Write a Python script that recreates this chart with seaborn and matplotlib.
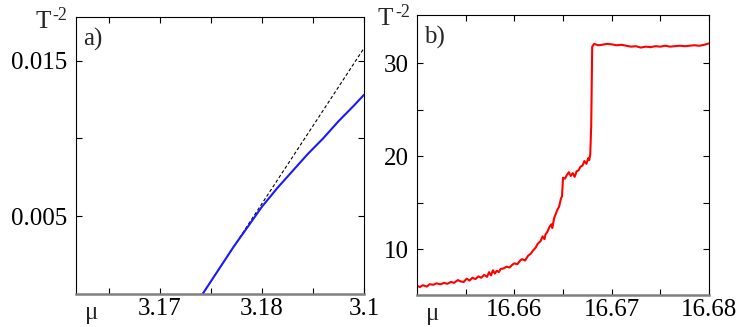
import pandas as pd
import seaborn as sns
import matplotlib.pyplot as plt
from matplotlib.ticker import FixedLocator

# ---- data ----
mu_a = [3.1742, 3.1750, 3.1760, 3.1772, 3.1786, 3.1800, 3.1815, 3.1830,
        3.1845, 3.1860, 3.1875, 3.1890, 3.1900]
t_a = [0.0000, 0.0008, 0.0018, 0.0030, 0.0043, 0.0056, 0.0068, 0.0079,
       0.0090, 0.0100, 0.0111, 0.0121, 0.0128]
mu_a_lin = [3.1742, 3.1900]
t_a_lin = [0.0000, 0.0158]

mu_b = [16.6500, 16.6503, 16.6506, 16.6510, 16.6513, 16.6517, 16.6520, 16.6524,
        16.6528, 16.6531, 16.6535, 16.6538, 16.6542, 16.6545, 16.6548, 16.6551,
        16.6554, 16.6557, 16.6560, 16.6563, 16.6566, 16.6569, 16.6572, 16.6574,
        16.6576, 16.6578, 16.6580, 16.6582, 16.6584, 16.6586, 16.6589, 16.6592,
        16.6595, 16.6598, 16.6600, 16.6603, 16.6606, 16.6608, 16.6611, 16.6614,
        16.6617, 16.6619, 16.6622, 16.6624, 16.6627, 16.6629, 16.6631, 16.6632,
        16.6634, 16.6636, 16.6638, 16.6639, 16.6641, 16.6644, 16.6646, 16.6648,
        16.6649, 16.6650, 16.6652, 16.6654, 16.6656, 16.6658, 16.6660, 16.6662,
        16.6664, 16.6666, 16.6668, 16.6670, 16.6672, 16.6674, 16.6676, 16.6677,
        16.6678, 16.6679, 16.6680, 16.6682, 16.6686, 16.6690, 16.6695, 16.6700,
        16.6705, 16.6710, 16.6715, 16.6720, 16.6725, 16.6730, 16.6735, 16.6740,
        16.6745, 16.6750, 16.6755, 16.6760, 16.6765, 16.6770, 16.6775, 16.6780,
        16.6785, 16.6790, 16.6795, 16.6800]
t_b = [6.10, 5.95, 6.15, 6.00, 6.25, 6.20, 6.35, 6.25,
       6.40, 6.30, 6.50, 6.40, 6.70, 6.55, 6.50, 6.85,
       6.65, 6.95, 6.80, 7.10, 6.95, 7.25, 7.05, 7.55,
       7.20, 7.75, 7.40, 7.70, 7.55, 7.90, 7.95, 8.15,
       8.05, 8.35, 8.50, 8.40, 8.80, 8.95, 8.80, 9.30,
       9.55, 9.85, 10.20, 10.60, 10.90, 11.40, 11.10, 11.60,
       11.90, 12.40, 12.70, 12.30, 13.40, 14.20, 14.60, 15.50,
       15.70, 17.70, 17.60, 18.00, 18.30, 17.90, 18.20, 17.80,
       18.40, 18.50, 18.90, 19.00, 19.50, 19.20, 19.80, 19.60,
       20.20, 23.30, 31.80, 32.10, 31.95, 32.00, 32.10, 32.05,
       31.95, 32.00, 31.90, 31.80, 31.85, 31.70, 31.80, 31.75,
       31.85, 31.80, 31.90, 31.80, 31.85, 31.90, 31.85, 31.90,
       31.95, 31.90, 32.00, 32.15]

df_a = pd.DataFrame({"mu": mu_a, "t": t_a})
df_a_lin = pd.DataFrame({"mu": mu_a_lin, "t": t_a_lin})
df_b = pd.DataFrame({"mu": mu_b, "t": t_b})

sns.set_theme(style="ticks")
plt.rcParams['font.family'] = ['Liberation Serif', 'DejaVu Serif']

fs = 18
fig = plt.figure(figsize=(7.56, 3.27), dpi=100)
ax_a = fig.add_axes([0.1005, 0.101, 0.381, 0.847])
ax_b = fig.add_axes([0.5516, 0.098, 0.3862, 0.856])

# panel a
sns.lineplot(data=df_a_lin, x="mu", y="t", ax=ax_a, color="black",
             linewidth=0.8, linestyle=(0, (3, 2)), estimator=None)
sns.lineplot(data=df_a, x="mu", y="t", ax=ax_a, color="#1a1aff",
             linewidth=1.5, estimator=None)
ax_a.set_xlim(3.1618, 3.19)
ax_a.set_ylim(0, 0.0178)
ax_a.xaxis.set_major_locator(FixedLocator([3.17, 3.18, 3.19]))
ax_a.xaxis.set_minor_locator(FixedLocator([3.165, 3.175, 3.185]))
ax_a.set_xticklabels(["3.17", "3.18", "3.1"])
ax_a.yaxis.set_major_locator(FixedLocator([0.005, 0.015]))
ax_a.yaxis.set_minor_locator(FixedLocator([0.01]))
ax_a.set_yticklabels(["0.005", "0.015"])

# panel b
sns.lineplot(data=df_b, x="mu", y="t", ax=ax_b, color="#ff0000",
             linewidth=1.5, estimator=None)
ax_b.set_xlim(16.65, 16.68)
ax_b.set_ylim(5.1, 35.2)
ax_b.xaxis.set_major_locator(FixedLocator([16.66, 16.67, 16.68]))
ax_b.xaxis.set_minor_locator(FixedLocator([16.655, 16.665, 16.675]))
ax_b.set_xticklabels(["16.66", "16.67", "16.68"])
ax_b.yaxis.set_major_locator(FixedLocator([10, 20, 30]))
ax_b.yaxis.set_minor_locator(FixedLocator([15, 25]))
ax_b.set_yticklabels(["10", "20", "30"])

for ax, tag in [(ax_a, "a)"), (ax_b, "b)")]:
    ax.set_xlabel("")
    ax.set_ylabel("")
    ax.tick_params(which="both", direction="in", top=True, right=True,
                   width=0.8, length=4, colors="black", labelsize=fs)
    ax.tick_params(axis="x", pad=3)
    ax.tick_params(axis="y", pad=6)
    for s in ["left", "top", "right"]:
        ax.spines[s].set_color("black")
        ax.spines[s].set_linewidth(0.8)
    ax.spines["bottom"].set_color("#808080")
    ax.spines["bottom"].set_linewidth(1.8)
    ax.text(0.025, 0.96, tag, transform=ax.transAxes, fontsize=fs,
            ha="left", va="top")
    ax.text(0.03, -0.03, "μ", transform=ax.transAxes, fontsize=fs,
            ha="left", va="top")

# T^-2 labels
for x0, yb in [(35, 28), (378, 25)]:
    fig.text(x0 / 756, 1 - yb / 327, "T", fontsize=fs, ha="left", va="baseline")
    fig.text((x0 + 17) / 756, 1 - (yb - 8) / 327, "-2", fontsize=13,
             ha="left", va="baseline")

plt.savefig("out.png", dpi=100)
plt.close(fig)
